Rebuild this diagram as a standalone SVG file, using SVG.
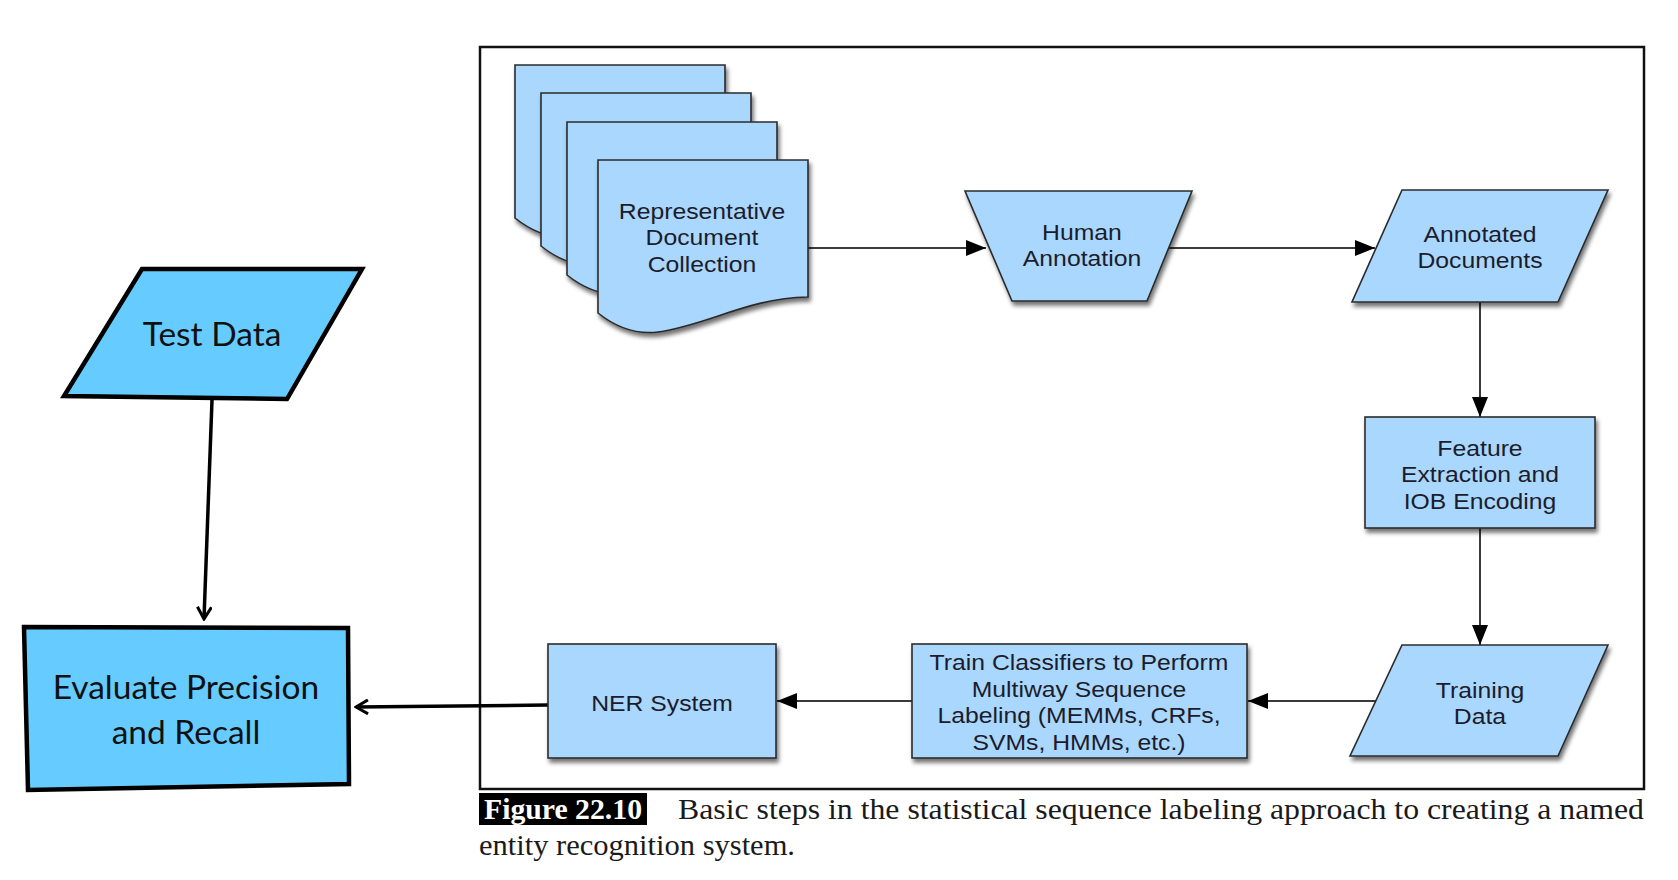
<svg xmlns="http://www.w3.org/2000/svg" width="1678" height="880" viewBox="0 0 1678 880">
<style>
.bg{fill:#ffffff}
.frame{fill:none;stroke:#111;stroke-width:2.5}
.shape{fill:#a9d7fd;stroke:#2b2b2b;stroke-width:1.6;filter:url(#sh)}
.big{fill:#66ccff;stroke:#000;stroke-width:4.5;stroke-linejoin:miter}
.t{font-family:"Liberation Sans",Arial,Helvetica,sans-serif;font-size:22.5px;fill:#1c1c2c;text-anchor:middle}
.c{font-family:Lato,"Open Sans","Liberation Sans",sans-serif;font-size:33.5px;fill:#111;text-anchor:middle}
.conn{fill:none;stroke:#3a3a3a;stroke-width:2}
.conn2{fill:none;stroke:#000;stroke-width:3.5}
.cap{font-family:"Liberation Serif","Times New Roman",serif;font-size:29px;fill:#1a1a1a}
.capb{font-family:"Liberation Serif","Times New Roman",serif;font-size:29px;font-weight:bold;fill:#fff}
</style>
<defs>
<filter id="sh" x="-10%" y="-10%" width="125%" height="130%">
<feDropShadow dx="2" dy="4" stdDeviation="2" flood-color="#000" flood-opacity="0.55"/>
</filter>
<marker id="ah" markerWidth="20" markerHeight="16" refX="20" refY="8" orient="auto" markerUnits="userSpaceOnUse">
<path d="M0,0 L20,8 L0,16 Z" fill="#000"/>
</marker>
<marker id="ao" markerWidth="16" markerHeight="16" refX="14" refY="8" orient="auto" markerUnits="userSpaceOnUse">
<path d="M2,1 L14,8 L2,15" fill="none" stroke="#000" stroke-width="3"/>
</marker>
<path id="doc" d="M0,0 H210 V137 C150,138 110,165 60,172 C35,175 15,165 0,153 Z"/>
</defs>
<rect class="bg" x="0" y="0" width="1678" height="880"/>

<rect class="frame" x="480" y="47" width="1164" height="742"/>

<g id="connectors">
<line class="conn" x1="808" y1="248" x2="986" y2="248" marker-end="url(#ah)"/>
<line class="conn" x1="1168" y1="248" x2="1375" y2="248" marker-end="url(#ah)"/>
<line class="conn" x1="1480" y1="302" x2="1480" y2="417" marker-end="url(#ah)"/>
<line class="conn" x1="1480" y1="528" x2="1480" y2="645" marker-end="url(#ah)"/>
<line class="conn" x1="1376" y1="701" x2="1248" y2="701" marker-end="url(#ah)"/>
<line class="conn" x1="912" y1="701" x2="777" y2="701" marker-end="url(#ah)"/>
<line class="conn2" x1="548" y1="705" x2="356" y2="707" marker-end="url(#ao)"/>
<line class="conn2" x1="212" y1="400" x2="204" y2="619" marker-end="url(#ao)"/>
</g>

<g id="doc-collection">
<use href="#doc" class="shape" x="515" y="65"/>
<use href="#doc" class="shape" x="541" y="93"/>
<use href="#doc" class="shape" x="567" y="122"/>
<use href="#doc" class="shape" x="598" y="160"/>
<text class="t" transform="translate(702,219) scale(1.1,1)"><tspan x="0" y="0">Representative</tspan><tspan x="0" dy="26.5">Document</tspan><tspan x="0" dy="26.5">Collection</tspan></text>
</g>

<g id="human-annotation">
<path class="shape" d="M965,191 H1192 L1147,301 H1012 Z"/>
<text class="t" transform="translate(1082,240) scale(1.1,1)"><tspan x="0" y="0">Human</tspan><tspan x="0" dy="26.5">Annotation</tspan></text>
</g>

<g id="annotated-documents">
<path class="shape" d="M1402,190 H1608 L1558,302 H1352 Z"/>
<text class="t" transform="translate(1480,242) scale(1.1,1)"><tspan x="0" y="0">Annotated</tspan><tspan x="0" dy="26.5">Documents</tspan></text>
</g>

<g id="feature-extraction">
<rect class="shape" x="1365" y="417" width="230" height="111"/>
<text class="t" transform="translate(1480,456) scale(1.1,1)"><tspan x="0" y="0">Feature</tspan><tspan x="0" dy="26.5">Extraction and</tspan><tspan x="0" dy="26.5">IOB Encoding</tspan></text>
</g>

<g id="training-data">
<path class="shape" d="M1402,645 H1608 L1558,756 H1350 Z"/>
<text class="t" transform="translate(1480,698) scale(1.1,1)"><tspan x="0" y="0">Training</tspan><tspan x="0" dy="26.5">Data</tspan></text>
</g>

<g id="train-classifiers">
<rect class="shape" x="912" y="644" width="335" height="114"/>
<text class="t" transform="translate(1079,670) scale(1.1,1)"><tspan x="0" y="0">Train Classifiers to Perform</tspan><tspan x="0" dy="26.7">Multiway Sequence</tspan><tspan x="0" dy="26.7">Labeling (MEMMs, CRFs,</tspan><tspan x="0" dy="26.7">SVMs, HMMs, etc.)</tspan></text>
</g>

<g id="ner-system">
<rect class="shape" x="548" y="644" width="228" height="114"/>
<text class="t" transform="translate(662,711) scale(1.1,1)">NER System</text>
</g>

<g id="test-data">
<path class="big" d="M142,269 L362,269 L287,399 L64,396 Z"/>
<text class="c" x="212" y="346">Test Data</text>
</g>

<g id="evaluate">
<path class="big" d="M24,627 L348,628 L349,784 L28,790 Z"/>
<text class="c" x="186" y="699">Evaluate Precision</text>
<text class="c" x="186" y="744">and Recall</text>
</g>

<g id="caption">
<rect x="479" y="793" width="168" height="32" fill="#000"/>
<text class="capb" x="484" y="819" textLength="158" lengthAdjust="spacingAndGlyphs">Figure 22.10</text>
<text class="cap" x="678" y="819" textLength="966" lengthAdjust="spacingAndGlyphs">Basic steps in the statistical sequence labeling approach to creating a named</text>
<text class="cap" x="479" y="855" textLength="316" lengthAdjust="spacingAndGlyphs">entity recognition system.</text>
</g>
</svg>
